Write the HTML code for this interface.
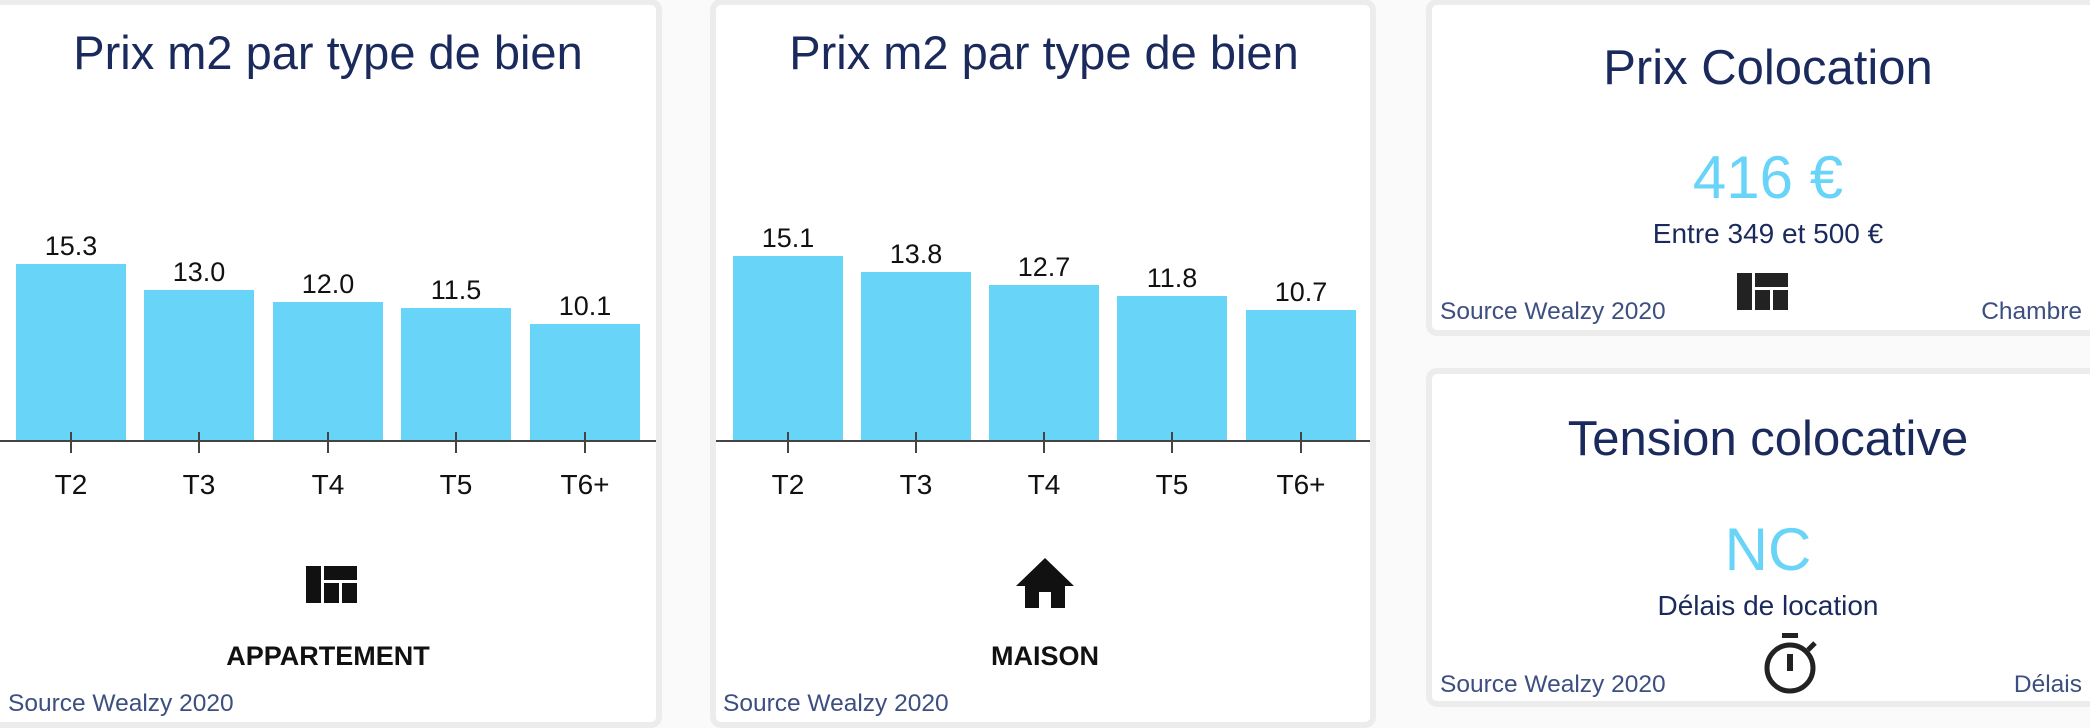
<!DOCTYPE html>
<html><head><meta charset="utf-8"><style>
html,body{margin:0;padding:0;background:#fafafa;}
body{width:2090px;height:728px;overflow:hidden;position:relative;font-family:"Liberation Sans",sans-serif;}
svg{position:absolute;left:0;top:0;}
</style></head><body>
<svg width="2090" height="728" viewBox="0 0 2090 728" xmlns="http://www.w3.org/2000/svg" font-family="Liberation Sans, sans-serif">
<rect x="-10" y="2" width="669" height="723" rx="8" fill="#fff" stroke="#ececec" stroke-width="6"/>
<rect x="713" y="2" width="660" height="723" rx="8" fill="#fff" stroke="#ececec" stroke-width="6"/>
<rect x="1429" y="2" width="680" height="331" rx="8" fill="#fff" stroke="#ececec" stroke-width="6"/>
<rect x="1429" y="371" width="680" height="333" rx="8" fill="#fff" stroke="#ececec" stroke-width="6"/>

<g fill="#1b2a5c" text-anchor="middle">
<text x="328" y="69" font-size="47">Prix m2 par type de bien</text>
<text x="1044" y="69" font-size="47">Prix m2 par type de bien</text>
<text x="1768" y="84" font-size="49">Prix Colocation</text>
<text x="1768" y="455" font-size="49">Tension colocative</text>
</g>

<g fill="#67d4f8">
<rect x="16" y="264" width="110" height="177"/>
<rect x="144" y="290" width="110" height="151"/>
<rect x="273" y="302" width="110" height="139"/>
<rect x="401" y="308" width="110" height="133"/>
<rect x="530" y="324" width="110" height="117"/>
<rect x="733" y="256" width="110" height="185"/>
<rect x="861" y="272" width="110" height="169"/>
<rect x="989" y="285" width="110" height="156"/>
<rect x="1117" y="296" width="110" height="145"/>
<rect x="1246" y="310" width="110" height="131"/>
</g>
<g stroke="#444" stroke-width="2">
<line x1="0" y1="441" x2="656" y2="441"/>
<line x1="716" y1="441" x2="1370" y2="441"/>
<line x1="71" y1="432" x2="71" y2="453"/><line x1="199" y1="432" x2="199" y2="453"/><line x1="328" y1="432" x2="328" y2="453"/><line x1="456" y1="432" x2="456" y2="453"/><line x1="585" y1="432" x2="585" y2="453"/>
<line x1="788" y1="432" x2="788" y2="453"/><line x1="916" y1="432" x2="916" y2="453"/><line x1="1044" y1="432" x2="1044" y2="453"/><line x1="1172" y1="432" x2="1172" y2="453"/><line x1="1301" y1="432" x2="1301" y2="453"/>
</g>
<g fill="#111" font-size="27" text-anchor="middle">
<text x="71" y="255">15.3</text><text x="199" y="281">13.0</text><text x="328" y="293">12.0</text><text x="456" y="299">11.5</text><text x="585" y="315">10.1</text>
<text x="788" y="247">15.1</text><text x="916" y="263">13.8</text><text x="1044" y="276">12.7</text><text x="1172" y="287">11.8</text><text x="1301" y="301">10.7</text>
<g font-size="28">
<text x="71" y="494">T2</text><text x="199" y="494">T3</text><text x="328" y="494">T4</text><text x="456" y="494">T5</text><text x="585" y="494">T6+</text>
<text x="788" y="494">T2</text><text x="916" y="494">T3</text><text x="1044" y="494">T4</text><text x="1172" y="494">T5</text><text x="1301" y="494">T6+</text>
</g>
<g font-size="27" font-weight="bold">
<text x="328" y="665">APPARTEMENT</text>
<text x="1045" y="665">MAISON</text>
</g>
</g>

<g fill="#111">
<rect x="306" y="566" width="15" height="37"/><rect x="324" y="566" width="33" height="14"/><rect x="324" y="583" width="15" height="20"/><rect x="342" y="583" width="15" height="20"/>
</g>
<g fill="#222">
<rect x="1737" y="273" width="15" height="37"/><rect x="1755" y="273" width="33" height="14"/><rect x="1755" y="290" width="15" height="20"/><rect x="1773" y="290" width="15" height="20"/>
</g>
<path d="M1045 558 L1074 586 L1065 586 L1065 608 L1051 608 L1051 592 L1039 592 L1039 608 L1025 608 L1025 586 L1016 586 Z" fill="#111"/>
<circle cx="1790" cy="668" r="23" fill="none" stroke="#222" stroke-width="5"/>
<rect x="1782" y="633" width="16" height="5" fill="#222"/>
<rect x="1787" y="654" width="6" height="17" fill="#222"/>
<line x1="1808" y1="650" x2="1815" y2="643" stroke="#222" stroke-width="5"/>

<g text-anchor="middle">
<text x="1768" y="198" font-size="60" fill="#67d4f8">416 €</text>
<text x="1768" y="243" font-size="28" fill="#1b2a5c">Entre 349 et 500 €</text>
<text x="1768" y="570" font-size="60" fill="#67d4f8">NC</text>
<text x="1768" y="615" font-size="28" fill="#1b2a5c">Délais de location</text>
</g>

<g fill="#3d4f80" font-size="24.5">
<text x="8" y="711">Source Wealzy 2020</text>
<text x="723" y="711">Source Wealzy 2020</text>
<text x="1440" y="319">Source Wealzy 2020</text>
<text x="1440" y="692">Source Wealzy 2020</text>
<text x="2082" y="319" text-anchor="end">Chambre</text>
<text x="2082" y="692" text-anchor="end">Délais</text>
</g>
</svg>
</body></html>
